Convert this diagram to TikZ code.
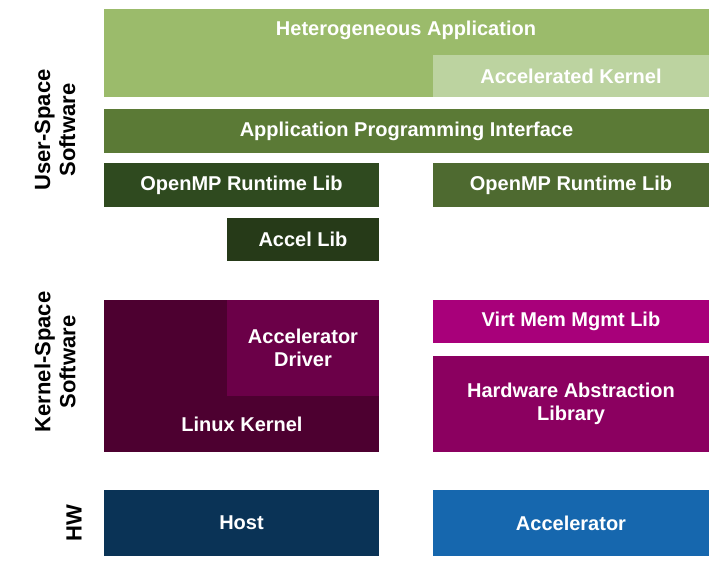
\documentclass[tikz,border=0pt]{standalone}
\usepackage{fontspec}
\setmainfont{Liberation Sans}
\begin{document}
\begin{tikzpicture}[x=1pt,y=-1pt,
  blk/.style={draw=none,inner sep=0pt,text=white,align=center,font=\fontsize{20}{23}\selectfont\bfseries},
  side/.style={rotate=90,align=center,inner sep=0pt,font=\fontsize{22}{25}\selectfont\bfseries}]
\useasboundingbox (0,0) rectangle (726,576);
\definecolor{g1}{HTML}{9BBB6B}\definecolor{g2}{HTML}{BCD3A0}\definecolor{g3}{HTML}{5B7A36}
\definecolor{g4}{HTML}{2F4A1F}\definecolor{g5}{HTML}{4E6A30}\definecolor{g6}{HTML}{263A18}
\definecolor{m1}{HTML}{4D0030}\definecolor{m2}{HTML}{6B0048}\definecolor{m3}{HTML}{A8007A}
\definecolor{m4}{HTML}{8B0060}\definecolor{b1}{HTML}{0A3356}\definecolor{b2}{HTML}{1667AE}
\newcommand{\blkat}[6]{\node[blk,fill=#5,minimum width={#3-#1},minimum height={#4-#2}] (#6) at ({(#1+#3)/2},{(#2+#4)/2}) {};}
\blkat{104}{9}{709}{97}{g1}{het}
\blkat{433}{55}{709}{97}{g2}{acck}
\node[blk] (hett) at (406,30) {Heterogeneous Application};
\node[blk] (ackt) at (acck) {Accelerated Kernel};
\node[blk,fill=g3,minimum width=605,minimum height=44] (api) at (406.5,131) {Application Programming Interface};
\node[blk,fill=g4,minimum width=275,minimum height=44] (omp1) at (241.5,185) {OpenMP Runtime Lib};
\node[blk,fill=g5,minimum width=276,minimum height=44] (omp2) at (571,185) {OpenMP Runtime Lib};
\node[blk,fill=g6,minimum width=152,minimum height=43] (accl) at (303,239.5) {Accel Lib};
\blkat{104}{300}{379}{452}{m1}{lk}
\node[blk] (lkt) at (242,424) {Linux Kernel};
\node[blk,fill=m2,minimum width=152,minimum height=96] (drv) at (303,348) {Accelerator\\Driver};
\node[blk,fill=m3,minimum width=276,minimum height=43] (vmm) at (571,321.5) {Virt Mem Mgmt Lib};
\node[blk,fill=m4,minimum width=276,minimum height=96] (hal) at (571,404) {Hardware Abstraction\\Library};
\node[blk,fill=b1,minimum width=275,minimum height=66] (host) at (241.5,523) {Host};
\node[blk,fill=b2,minimum width=276,minimum height=66] (acc) at (571,523) {Accelerator};
\node[side] (us) at (55,130) {User-Space\\Software};
\node[side] (ks) at (55,362) {Kernel-Space\\Software};
\node[side] (hw) at (74,523) {HW};
\end{tikzpicture}
\end{document}
